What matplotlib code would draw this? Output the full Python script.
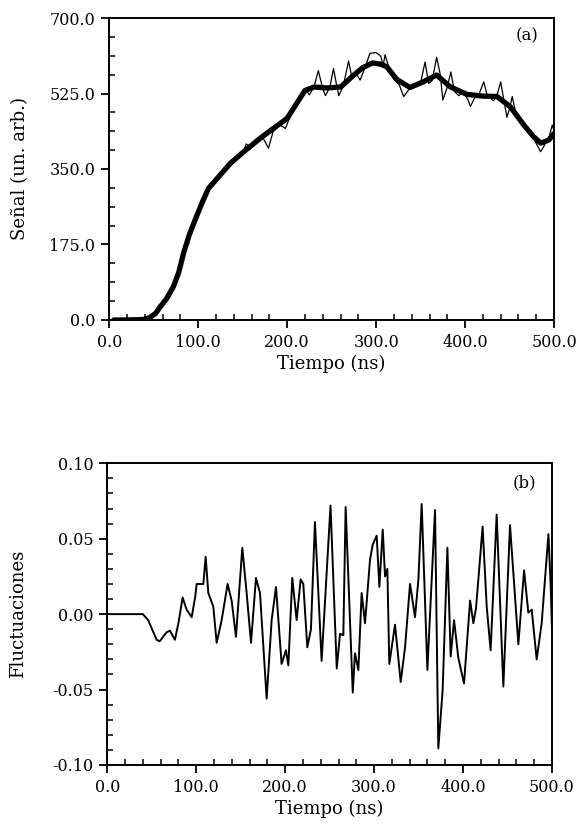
"""Signal and fluctuation traces versus time, panels (a) and (b)."""

import matplotlib.pyplot as plt
from matplotlib.ticker import FormatStrFormatter, MultipleLocator

# panel (a): smoothed signal (thick) and raw signal (thin)
smooth_t = [5, 20, 38, 45, 52, 57, 64, 72, 78, 83.5, 90, 98, 105, 111.5, 120, 136, 150,
            169.5, 185, 199.8, 210, 220, 230, 245, 260, 275, 285, 296, 305, 312, 323,
            338, 353, 368, 383, 402, 420, 436, 451, 466, 477, 485, 494, 500]
smooth_v = [0, 0, 1, 5, 15, 30, 48, 77, 110, 155, 198, 240, 275, 305, 325, 363, 388,
            421, 445, 467, 500, 532, 540, 538, 540, 568, 585, 596, 593, 587, 558,
            539, 552, 568, 541, 523, 519, 518, 494, 452, 425, 410, 417, 432]

raw_t = [5, 38, 52, 64, 72, 83.5, 98, 111.5, 115, 120, 136, 145, 150, 154, 158, 165,
         172, 179, 184, 192, 198, 203, 210, 217, 222, 225, 230, 235, 240, 243, 248,
         252, 256, 258, 263, 269, 273, 278, 282, 288, 293, 300, 305, 308, 310, 315,
         320, 326, 331, 337, 344, 350, 355, 359, 363, 368, 372, 375, 380, 384, 388,
         393, 398, 403, 406, 412, 416, 421, 425, 432, 436, 440, 444, 447, 450, 453,
         457, 463, 470, 477, 481, 485, 490, 494, 498, 500]
raw_v = [0, 1, 15, 48, 77, 155, 240, 305, 312, 322, 362, 378, 388, 408, 402, 412,
         425, 398, 436, 452, 444, 470, 498, 528, 530, 522, 540, 578, 536, 520, 540,
         583, 540, 520, 542, 600, 560, 570, 556, 588, 618, 620, 612, 590, 615, 580,
         558, 545, 518, 535, 545, 550, 598, 548, 555, 609, 570, 510, 540, 575, 530,
         520, 528, 512, 495, 520, 525, 552, 520, 508, 522, 552, 505, 470, 490, 518,
         480, 455, 440, 422, 405, 390, 408, 420, 452, 438]

# panel (b): fluctuations
fluct_t = [0, 40, 46, 55.5, 59, 66.7, 70.5, 76, 80, 84.7, 89.2, 94.9, 99, 100.5, 108,
           110.6, 113.6, 119.2, 123, 128.6, 135.3, 139.8, 144.7, 151.8, 156.7, 161.6,
           167.2, 171.7, 179.2, 184.8, 189.7, 196, 200.9, 203.6, 208, 212.9, 217.4,
           220.4, 224.9, 229, 233.5, 241, 251, 258, 261.7, 265.4, 268, 276, 278.5,
           282.3, 286, 289.8, 295.4, 298.4, 302.9, 305.9, 309.7, 312.3, 314.9, 317.1,
           323.5, 329.9, 334.8, 340.4, 346, 349.8, 353.5, 359.9, 368.5, 372.2, 377.1,
           382.4, 386.1, 389.9, 394.7, 401.1, 407.9, 411.6, 414.6, 422, 426.6, 431,
           437.8, 445.3, 452.8, 462.2, 468.6, 473.4, 477.2, 482.8, 488.4, 496, 498.6,
           500]
fluct_v = [0, 0, -0.004, -0.017, -0.018, -0.012, -0.011, -0.017, -0.006, 0.011, 0.003,
           -0.002, 0.012, 0.020, 0.020, 0.038, 0.014, 0.005, -0.019, -0.004, 0.020,
           0.009, -0.015, 0.044, 0.014, -0.019, 0.024, 0.014, -0.056, -0.004, 0.018,
           -0.033, -0.024, -0.034, 0.024, -0.004, 0.023, 0.020, -0.022, -0.010, 0.061,
           -0.031, 0.072, -0.036, -0.013, -0.014, 0.071, -0.052, -0.026, -0.037, 0.014,
           -0.006, 0.036, 0.046, 0.052, 0.018, 0.056, 0.025, 0.030, -0.033, -0.007,
           -0.045, -0.022, 0.020, -0.002, 0.023, 0.073, -0.037, 0.069, -0.089, -0.050,
           0.044, -0.028, -0.004, -0.029, -0.046, 0.009, -0.006, 0.004, 0.058, 0.005,
           -0.024, 0.066, -0.048, 0.059, -0.020, 0.029, 0.001, 0.003, -0.030, -0.006,
           0.053, 0.018, -0.010]

plt.rcParams["font.family"] = ["DejaVu Serif"]
plt.rcParams["axes.unicode_minus"] = False

TICK_SIZE = 11.5
LABEL_SIZE = 13


def style_axes(ax, y_major, y_minor, y_fmt):
    """Apply the frame and tick layout shared by both panels."""

    ax.set_xlim(0, 500)
    ax.xaxis.set_major_locator(MultipleLocator(100))
    ax.xaxis.set_minor_locator(MultipleLocator(20))
    ax.xaxis.set_major_formatter(FormatStrFormatter("%.1f"))
    ax.yaxis.set_major_locator(MultipleLocator(y_major))
    ax.yaxis.set_minor_locator(MultipleLocator(y_minor))
    ax.yaxis.set_major_formatter(FormatStrFormatter(y_fmt))
    ax.tick_params(axis="x", which="major", direction="out", length=6, width=1.3,
                   labelsize=TICK_SIZE, pad=4)
    ax.tick_params(axis="x", which="minor", direction="in", length=4, width=1.1)
    ax.tick_params(axis="y", which="major", direction="out", length=6, width=1.3,
                   labelsize=TICK_SIZE, pad=4)
    ax.tick_params(axis="y", which="minor", direction="in", length=4, width=1.1)
    for spine in ax.spines.values():
        spine.set_linewidth(1.4)
    ax.set_xlabel("Tiempo (ns)", fontsize=LABEL_SIZE, labelpad=3)


fig = plt.figure(figsize=(5.83, 8.27), dpi=100)

ax_a = fig.add_axes([0.1875, 0.6131, 0.7628, 0.3651])
ax_a.plot(raw_t, raw_v, color="black", linewidth=0.9)
ax_a.plot(smooth_t, smooth_v, color="black", linewidth=3.8, solid_capstyle="round")
ax_a.set_ylim(0, 700)
style_axes(ax_a, 175, 43.75, "%.1f")
ax_a.set_ylabel("Señal (un. arb.)", fontsize=LABEL_SIZE)
ax_a.yaxis.set_label_coords(-0.18, 0.5)
ax_a.text(0.939, 0.94, "(a)", transform=ax_a.transAxes, fontsize=TICK_SIZE + 0.5,
          ha="center", va="center")

ax_b = fig.add_axes([0.1840, 0.0750, 0.7628, 0.3648])
ax_b.plot(fluct_t, fluct_v, color="black", linewidth=1.4)
ax_b.set_ylim(-0.10, 0.10)
style_axes(ax_b, 0.05, 0.01, "%.2f")
ax_b.set_ylabel("Fluctuaciones", fontsize=LABEL_SIZE)
ax_b.yaxis.set_label_coords(-0.18, 0.5)
ax_b.text(0.939, 0.934, "(b)", transform=ax_b.transAxes, fontsize=TICK_SIZE + 0.5,
          ha="center", va="center")

fig.savefig("out.png", dpi=100)
plt.close(fig)
